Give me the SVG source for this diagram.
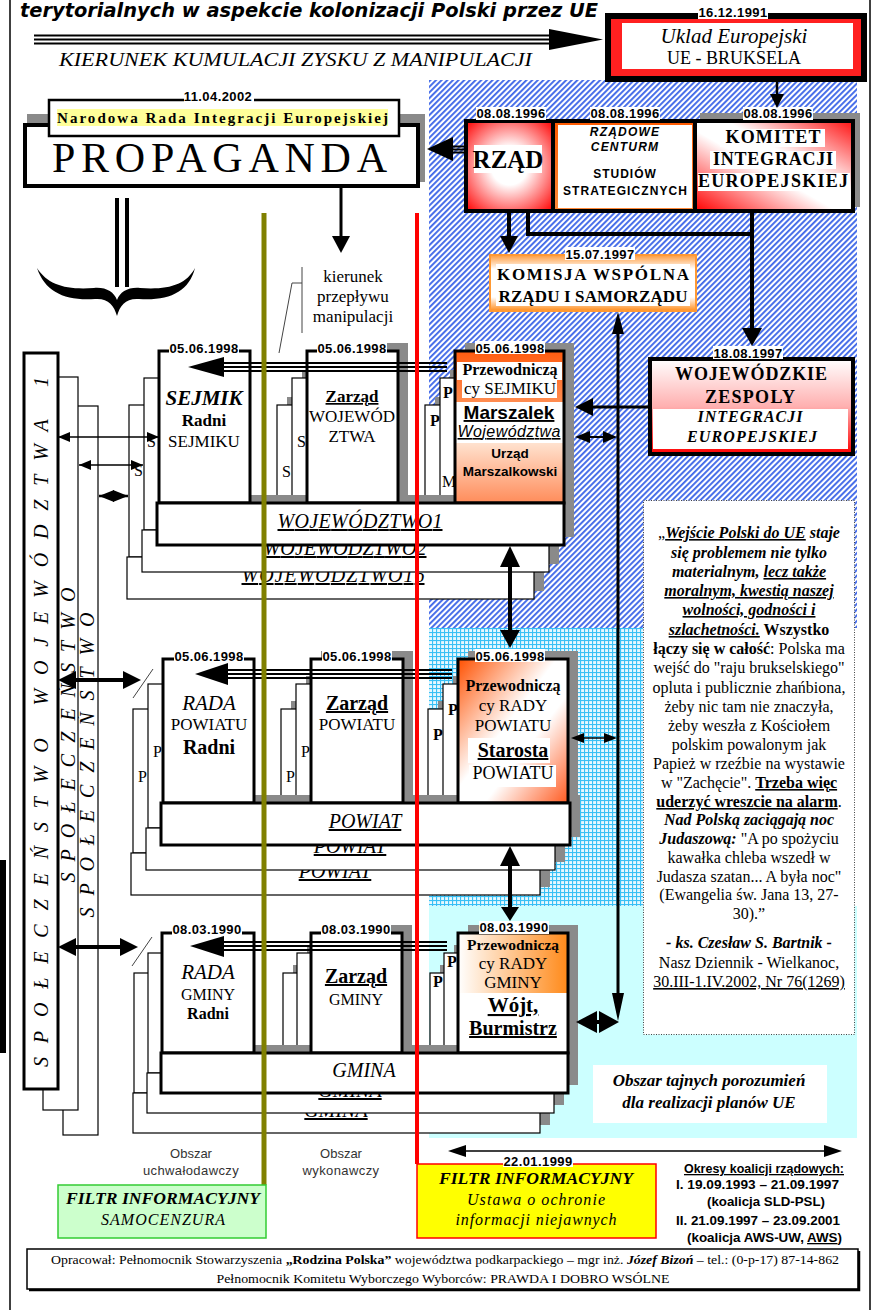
<svg xmlns="http://www.w3.org/2000/svg" width="878" height="1310" viewBox="0 0 878 1310">
<defs>
<style>
.sf{font-family:"Liberation Serif","Times New Roman",serif}
.ss{font-family:"Liberation Sans",Arial,sans-serif}
.dj{font-family:"DejaVu Sans",Verdana,sans-serif}
.c{text-anchor:middle}
.b{font-weight:bold}
.i{font-style:italic}
.u{text-decoration:underline}
.date{font-family:"Liberation Sans",Arial,sans-serif;font-weight:bold;font-size:13px;letter-spacing:0.4px;text-anchor:middle;fill:#000}
.dbg{fill:#fff}
.bx{fill:#fff;stroke:#000;stroke-width:3}
.bk{fill:#fff;stroke:#000;stroke-width:1.2}
.sh{fill:#8a8a8a}
.ol{fill:none;stroke:#000;stroke-width:3}
.k{fill:#000}
.tri{stroke:#000;stroke-width:2;fill:none}
.q{font-family:"Liberation Serif","Times New Roman",serif;font-size:16px;text-anchor:middle;fill:#000}
.bar{font-family:"Liberation Serif","Times New Roman",serif;font-style:italic;font-size:20px;text-anchor:middle}
</style>
<pattern id="hatch" width="4" height="4" patternUnits="userSpaceOnUse" patternTransform="rotate(45)">
<rect width="4" height="4" fill="#fff"/><rect width="1.9" height="4" fill="#4169e8"/>
</pattern>
<pattern id="grid" width="4" height="4" patternUnits="userSpaceOnUse">
<rect width="4" height="4" fill="#e6f8ff"/><rect width="4" height="1.1" fill="#38c0f5"/><rect width="1.1" height="4" fill="#38c0f5"/>
</pattern>
<radialGradient id="gRzad" cx="50%" cy="50%" r="70%">
<stop offset="0" stop-color="#fff"/><stop offset="0.3" stop-color="#fff"/><stop offset="1" stop-color="#ff0000"/>
</radialGradient>
<linearGradient id="gKom" x1="0" y1="1" x2="1" y2="0">
<stop offset="0" stop-color="#ff0000"/><stop offset="0.45" stop-color="#fff"/><stop offset="0.6" stop-color="#fff"/><stop offset="1" stop-color="#ff1010"/>
</linearGradient>
<linearGradient id="gCen" x1="0" y1="0" x2="0" y2="1">
<stop offset="0" stop-color="#ff5a00"/><stop offset="1" stop-color="#ff8a3a"/>
</linearGradient>
<linearGradient id="gWoj" x1="0" y1="0" x2="0" y2="1">
<stop offset="0" stop-color="#fff"/><stop offset="0.5" stop-color="#ffb0b0"/><stop offset="1" stop-color="#ff0000"/>
</linearGradient>
<linearGradient id="gKms" x1="0" y1="0" x2="0" y2="1">
<stop offset="0" stop-color="#ff9a3a"/><stop offset="0.25" stop-color="#fff"/><stop offset="0.75" stop-color="#fff"/><stop offset="1" stop-color="#ff8c1a"/>
</linearGradient>
<linearGradient id="gMT" x1="0" y1="0" x2="0" y2="1">
<stop offset="0" stop-color="#ff5c10"/><stop offset="1" stop-color="#ff8c50"/>
</linearGradient>
<linearGradient id="gMB" x1="0" y1="0" x2="0" y2="1">
<stop offset="0" stop-color="#ffe2cf"/><stop offset="1" stop-color="#ff8c5a"/>
</linearGradient>
<linearGradient id="gPow" x1="0" y1="0" x2="1" y2="1">
<stop offset="0" stop-color="#ff5000"/><stop offset="0.45" stop-color="#fff"/><stop offset="0.62" stop-color="#fff"/><stop offset="1" stop-color="#ff5a20"/>
</linearGradient>
<linearGradient id="gGm" x1="0" y1="0" x2="1" y2="0">
<stop offset="0" stop-color="#fff"/><stop offset="1" stop-color="#ff8a1a"/>
</linearGradient>
<marker id="mT" markerWidth="12" markerHeight="10" refX="12" refY="5" orient="auto-start-reverse" markerUnits="userSpaceOnUse"><path d="M0,0L12,5L0,10z"/></marker>
<marker id="mS" markerWidth="15" markerHeight="12" refX="15" refY="6" orient="auto-start-reverse" markerUnits="userSpaceOnUse"><path d="M0,0L15,6L0,12z"/></marker>
</defs>

<rect x="0" y="0" width="878" height="1310" fill="#fff"/>

<!-- background areas -->
<g id="areas">
<rect x="429" y="80" width="428" height="548" fill="url(#hatch)"/>
<rect x="429" y="628" width="214" height="278" fill="url(#grid)"/>
<rect x="429" y="906" width="428" height="232" fill="#ccffff"/>
</g>

<!-- frame -->
<g id="frame">
<line x1="10" y1="0" x2="10" y2="1310" stroke="#000" stroke-width="1.5"/>
<line x1="870" y1="0" x2="870" y2="1310" stroke="#000" stroke-width="1.5"/>
<rect x="0" y="860" width="6" height="193" fill="#000"/>
</g>

<!-- title -->
<g id="title">
<text class="dj b i" x="20" y="17" font-size="19" textLength="578" lengthAdjust="spacingAndGlyphs">terytorialnych w aspekcie kolonizacji Polski przez UE</text>
<text class="sf i" x="59" y="66" font-size="18" textLength="473" lengthAdjust="spacingAndGlyphs">KIERUNEK KUMULACJI ZYSKU Z MANIPULACJI</text>
</g>

<!-- Uklad Europejski -->
<g id="uklad">
<rect x="608" y="16" width="256" height="63" fill="#ff2020" stroke="#000" stroke-width="6"/>
<rect x="622" y="23" width="231" height="46" fill="#fff"/>
<rect class="dbg" x="698" y="5" width="70" height="14"/>
<text class="date" x="733" y="17">16.12.1991</text>
<text class="sf i c" x="734" y="43" font-size="21">Uklad Europejski</text>
<text class="sf c" x="734" y="64" font-size="18">UE - BRUKSELA</text>
</g>

<!-- Propaganda -->
<g id="propaganda">
<rect class="sh" x="27" y="114" width="398" height="68"/>
<rect x="25" y="125" width="393" height="61" fill="#fff" stroke="#000" stroke-width="4"/>
<text class="sf" x="52" y="172" font-size="42" textLength="335" lengthAdjust="spacing">PROPAGANDA</text>
</g>
<g id="nrie">
<rect x="49" y="100" width="350" height="36" fill="#fff" stroke="#000" stroke-width="2.5"/>
<rect x="57" y="109" width="331" height="17" fill="#ffff99"/>
<text class="sf b" x="57" y="123" font-size="15" textLength="331" lengthAdjust="spacing">Narodowa Rada Integracji Europejskiej</text>
<rect class="dbg" x="184" y="90" width="70" height="13"/>
<text class="date" x="218" y="101">11.04.2002</text>
</g>

<!-- brace and double line -->
<g id="brace">
<line x1="117" y1="198" x2="117" y2="287" stroke="#000" stroke-width="4"/>
<line x1="127" y1="198" x2="127" y2="287" stroke="#000" stroke-width="4"/>
<path d="M37,268 C45,292 65,301 95,299 C108,298 114,305 117,316 C120,305 126,298 139,299 C169,301 189,292 195,268 C186,285 168,290 140,288 C128,287 120,292 117,300 C114,292 106,287 94,288 C66,290 48,285 37,268 Z" fill="#000"/>
</g>

<!-- kierunek przeplywu -->
<g id="kierunek">
<text class="sf c" x="353" y="282" font-size="17">kierunek</text>
<text class="sf c" x="353" y="302" font-size="17">przepływu</text>
<text class="sf c" x="353" y="322" font-size="17">manipulacji</text>
<polyline points="302,267 302,333" fill="none" stroke="#444" stroke-width="1"/>
<polyline points="302,283 292,283 279,353" fill="none" stroke="#444" stroke-width="1"/>
</g>

<!-- Rzad / Centrum / Komitet -->
<g id="rzad">
<rect class="sh" x="700" y="113" width="160" height="94"/>
<rect x="466" y="121" width="87" height="90" fill="url(#gRzad)"/>
<rect x="553" y="121" width="142" height="90" fill="url(#gCen)"/>
<rect x="558" y="125" width="134" height="83" fill="#fff"/>
<rect x="695" y="121" width="158" height="90" fill="url(#gKom)"/>
<rect x="466" y="121" width="387" height="90" fill="none" stroke="#000" stroke-width="4"/>
<line x1="553" y1="121" x2="553" y2="211" stroke="#000" stroke-width="4"/>
<line x1="695" y1="121" x2="695" y2="211" stroke="#000" stroke-width="4"/>
<rect x="474" y="145" width="68" height="28" fill="#fff"/>
<text class="sf b c" x="508" y="168" font-size="25">RZĄD</text>
<text class="ss b i c" x="625" y="136" font-size="12" letter-spacing="1.2">RZĄDOWE</text>
<text class="ss b i c" x="625" y="151" font-size="12" letter-spacing="1.2">CENTURM</text>
<text class="ss b c" x="625" y="178" font-size="12" letter-spacing="1">STUDIÓW</text>
<text class="ss b c" x="625" y="195" font-size="12" textLength="124" lengthAdjust="spacing">STRATEGICZNYCH</text>
<rect x="720" y="129" width="105" height="18" fill="#fff"/>
<rect x="710" y="151" width="126" height="18" fill="#fff"/>
<rect x="698" y="173" width="152" height="18" fill="#fff"/>
<text class="sf b c" x="773" y="143" font-size="18" textLength="95" lengthAdjust="spacing">KOMITET</text>
<text class="sf b c" x="773" y="165" font-size="18" textLength="120" lengthAdjust="spacing">INTEGRACJI</text>
<text class="sf b c" x="773" y="187" font-size="18" textLength="150" lengthAdjust="spacing">EUROPEJSKIEJ</text>
<rect class="dbg" x="476" y="107" width="70" height="13"/>
<text class="date" x="511" y="118">08.08.1996</text>
<rect class="dbg" x="590" y="107" width="70" height="13"/>
<text class="date" x="625" y="118">08.08.1996</text>
<rect class="dbg" x="743" y="107" width="70" height="13"/>
<text class="date" x="778" y="118">08.08.1996</text>
</g>

<!-- Komisja -->
<g id="komisja">
<rect x="490" y="255" width="206" height="56" fill="url(#gKms)" stroke="#ff9933" stroke-width="2"/>
<rect x="496" y="264" width="194" height="20" fill="#fff"/>
<rect x="496" y="286" width="194" height="20" fill="#fff"/>
<text class="sf b c" x="593" y="280" font-size="17" textLength="192" lengthAdjust="spacing">KOMISJA WSPÓLNA</text>
<text class="sf b c" x="593" y="302" font-size="17" textLength="189" lengthAdjust="spacing">RZĄDU I SAMORZĄDU</text>
<rect class="dbg" x="565" y="247" width="70" height="13"/>
<text class="date" x="600" y="259">15.07.1997</text>
</g>

<!-- Wojewodzkie zespoly -->
<g id="wojzesp">
<rect x="650" y="359" width="203" height="95" fill="url(#gWoj)" stroke="#000" stroke-width="4"/>
<rect x="653" y="409" width="195" height="40" fill="#fff"/>
<text class="sf b c" x="751" y="380" font-size="18" textLength="152" lengthAdjust="spacing">WOJEWÓDZKIE</text>
<text class="sf b c" x="750" y="403" font-size="18" textLength="90" lengthAdjust="spacing">ZESPOLY</text>
<text class="sf b i c" x="750" y="422" font-size="16" textLength="105" lengthAdjust="spacing">INTEGRACJI</text>
<text class="sf b i c" x="752" y="442" font-size="16" textLength="130" lengthAdjust="spacing">EUROPEJSKIEJ</text>
<rect class="dbg" x="713" y="346" width="70" height="13"/>
<text class="date" x="748" y="358">18.08.1997</text>
</g>

<!-- Spoleczenstwo -->
<g id="spoleczenstwo">
<rect class="bk" x="63" y="406" width="35" height="729"/>
<text class="sf i c" transform="translate(94,765) rotate(-90)" font-size="20" textLength="305" lengthAdjust="spacing">SPOŁECZEŃSTWO</text>
<rect class="bk" x="43" y="377" width="35" height="733"/>
<text class="sf i c" transform="translate(75,735) rotate(-90)" font-size="20" textLength="295" lengthAdjust="spacing">SPOŁECZEŃSTWO</text>
<rect x="24" y="353" width="34" height="736" fill="#fff" stroke="#000" stroke-width="3"/>
<text class="sf i c" transform="translate(48,722) rotate(-90)" font-size="20" textLength="690" lengthAdjust="spacing">SPOŁECZEŃSTWO WOJEWÓDZTWA 1</text>
</g>

<!-- Wojewodztwo row: back copies -->
<g id="woj-back2" transform="translate(-30,54)">
<rect class="sh" x="317" y="343" width="91" height="152"/>
<rect class="sh" x="465" y="343" width="109" height="152"/>
<rect class="sh" x="167" y="495" width="407" height="42"/>
<rect class="bk" x="159" y="351" width="91" height="152"/>
<rect class="bk" x="307" y="351" width="91" height="152"/>
<rect class="bk" x="455" y="351" width="109" height="152"/>
<text class="sf" x="164" y="422" font-size="16">S</text>
<text class="sf" x="312" y="423" font-size="16">S</text>
<text class="sf b" x="460" y="372" font-size="16">P</text>
<rect class="bk" x="157" y="503" width="407" height="42"/>
<text class="bar u" x="363" y="528" textLength="183" lengthAdjust="spacing">WOJEWÓDZTWO16</text>
</g>
<g id="woj-back1" transform="translate(-15,27)">
<rect class="sh" x="317" y="343" width="91" height="152"/>
<rect class="sh" x="465" y="343" width="109" height="152"/>
<rect class="sh" x="167" y="495" width="407" height="42"/>
<rect class="bk" x="159" y="351" width="91" height="152"/>
<rect class="bk" x="307" y="351" width="91" height="152"/>
<rect class="bk" x="455" y="351" width="109" height="152"/>
<text class="sf" x="162" y="420" font-size="16">S</text>
<text class="sf" x="312" y="420" font-size="16">S</text>
<text class="sf b" x="458" y="371" font-size="16">P</text>
<text class="sf" x="457" y="460" font-size="16">M</text>
<rect class="bk" x="157" y="503" width="407" height="42"/>
<text class="bar u" x="360" y="528" textLength="163" lengthAdjust="spacing">WOJEWÓDZTWO2</text>
</g>

<!-- Wojewodztwo row: front -->
<g id="woj-shadows">
<rect class="sh" x="317" y="343" width="91" height="152"/>
<rect class="sh" x="465" y="343" width="109" height="152"/>
<rect class="sh" x="167" y="495" width="407" height="42"/>
</g>
<g id="sejmik">
<rect class="bx" x="159" y="351" width="91" height="152"/>
<text class="sf b i c" x="204" y="405" font-size="21">SEJMIK</text>
<text class="sf b c" x="204" y="426" font-size="17">Radni</text>
<text class="sf c" x="204" y="447" font-size="17">SEJMIKU</text>
<rect class="dbg" x="169" y="341" width="70" height="13"/>
<text class="date" x="204" y="353">05.06.1998</text>
</g>
<g id="zarzad-woj">
<rect class="bx" x="307" y="351" width="91" height="152"/>
<text class="sf b c u" x="352" y="402" font-size="17">Zarząd</text>
<text class="sf c" x="352" y="422" font-size="17">WOJEWÓD</text>
<text class="sf c" x="352" y="442" font-size="17">ZTWA</text>
<rect class="dbg" x="317" y="341" width="70" height="13"/>
<text class="date" x="352" y="353">05.06.1998</text>
</g>
<g id="marszalek">
<rect x="455" y="351" width="109" height="51" fill="url(#gMT)"/>
<rect x="455" y="402" width="109" height="41" fill="#fff"/>
<rect x="455" y="443" width="109" height="60" fill="url(#gMB)"/>
<rect x="457" y="362" width="105" height="18" fill="#fff"/>
<rect x="462" y="380" width="95" height="18" fill="#fff"/>
<rect class="ol" x="455" y="351" width="109" height="152"/>
<text class="sf b c" x="510" y="375" font-size="16">Przewodniczą</text>
<text class="sf c" x="510" y="394" font-size="17">cy SEJMIKU</text>
<text class="ss b c u" x="509" y="419" font-size="19">Marszalek</text>
<text class="ss i c u" x="509" y="437" font-size="16" textLength="103" lengthAdjust="spacing">Województwa</text>
<text class="ss b c" x="510" y="458" font-size="13.5">Urząd</text>
<text class="ss b c" x="510" y="476" font-size="13.5">Marszalkowski</text>
<rect class="dbg" x="475" y="341" width="70" height="13"/>
<text class="date" x="510" y="353">05.06.1998</text>
</g>
<g id="wojewodztwo1">
<rect class="bx" x="157" y="503" width="407" height="42"/>
<text class="bar u" x="360" y="528" textLength="165" lengthAdjust="spacing">WOJEWÓDZTWO1</text>
</g>

<!-- Powiat row: back copies -->
<g id="pow-back2" transform="translate(-30,50)">
<rect class="sh" x="321" y="651" width="92" height="144"/>
<rect class="sh" x="468" y="651" width="110" height="144"/>
<rect class="sh" x="171" y="795" width="409" height="42"/>
<rect class="bk" x="163" y="659" width="91" height="144"/>
<rect class="bk" x="311" y="659" width="92" height="144"/>
<rect class="bk" x="458" y="659" width="110" height="144"/>
<text class="sf" x="168" y="732" font-size="16">P</text>
<text class="sf" x="316" y="732" font-size="16">P</text>
<text class="sf b" x="463" y="690" font-size="16">P</text>
<rect class="bk" x="161" y="803" width="409" height="42"/>
<text class="bar u" x="365" y="828">POWIAT</text>
</g>
<g id="pow-back1" transform="translate(-15,25)">
<rect class="sh" x="321" y="651" width="92" height="144"/>
<rect class="sh" x="468" y="651" width="110" height="144"/>
<rect class="sh" x="171" y="795" width="409" height="42"/>
<rect class="bk" x="163" y="659" width="91" height="144"/>
<rect class="bk" x="311" y="659" width="92" height="144"/>
<rect class="bk" x="458" y="659" width="110" height="144"/>
<text class="sf" x="168" y="732" font-size="16">P</text>
<text class="sf" x="316" y="732" font-size="16">P</text>
<text class="sf b" x="463" y="690" font-size="16">P</text>
<rect class="bk" x="161" y="803" width="409" height="42"/>
<text class="bar u" x="365" y="828">POWIAT</text>
</g>

<!-- Powiat row: front -->
<g id="pow-shadows">
<rect class="sh" x="321" y="651" width="92" height="144"/>
<rect class="sh" x="468" y="651" width="110" height="144"/>
<rect class="sh" x="171" y="795" width="409" height="42"/>
</g>
<g id="rada-powiatu">
<rect class="bx" x="163" y="659" width="91" height="144"/>
<text class="sf i c" x="209" y="710" font-size="21">RADA</text>
<text class="sf c" x="209" y="730" font-size="17">POWIATU</text>
<text class="sf b c" x="209" y="754" font-size="20">Radni</text>
<rect class="dbg" x="174" y="649" width="70" height="13"/>
<text class="date" x="209" y="661">05.06.1998</text>
</g>
<g id="zarzad-powiatu">
<rect class="bx" x="311" y="659" width="92" height="144"/>
<text class="sf b c u" x="357" y="710" font-size="20">Zarząd</text>
<text class="sf c" x="357" y="730" font-size="17">POWIATU</text>
<rect class="dbg" x="322" y="649" width="70" height="13"/>
<text class="date" x="357" y="661">05.06.1998</text>
</g>
<g id="starosta">
<rect x="458" y="659" width="110" height="144" fill="url(#gPow)"/>
<rect x="468" y="738" width="82" height="25" fill="#fff"/>
<rect x="469" y="765" width="87" height="22" fill="#fff"/>
<rect class="ol" x="458" y="659" width="110" height="144"/>
<text class="sf b c" x="513" y="691" font-size="16">Przewodniczą</text>
<text class="sf c" x="513" y="711" font-size="17">cy RADY</text>
<text class="sf c" x="513" y="731" font-size="17">POWIATU</text>
<text class="sf b c u" x="513" y="757" font-size="20">Starosta</text>
<text class="sf c" x="513" y="779" font-size="18">POWIATU</text>
<rect class="dbg" x="475" y="649" width="70" height="13"/>
<text class="date" x="510" y="661">05.06.1998</text>
</g>
<g id="powiat">
<rect class="bx" x="161" y="803" width="409" height="42"/>
<text class="bar u" x="365" y="828">POWIAT</text>
</g>

<!-- Gmina row: back copies -->
<g id="gm-back2" transform="translate(-28,40)">
<rect class="sh" x="321" y="925" width="91" height="120"/>
<rect class="sh" x="468" y="925" width="110" height="120"/>
<rect class="sh" x="171" y="1045" width="407" height="40"/>
<rect class="bk" x="162" y="933" width="92" height="120"/>
<rect class="bk" x="311" y="933" width="91" height="120"/>
<rect class="bk" x="458" y="933" width="110" height="120"/>
<text class="sf b" x="461" y="947" font-size="16">P</text>
<rect class="bk" x="161" y="1053" width="407" height="40"/>
<text class="bar u" x="364" y="1077">GMINA</text>
</g>
<g id="gm-back1" transform="translate(-14,20)">
<rect class="sh" x="321" y="925" width="91" height="120"/>
<rect class="sh" x="468" y="925" width="110" height="120"/>
<rect class="sh" x="171" y="1045" width="407" height="40"/>
<rect class="bk" x="162" y="933" width="92" height="120"/>
<rect class="bk" x="311" y="933" width="91" height="120"/>
<rect class="bk" x="458" y="933" width="110" height="120"/>
<text class="sf b" x="461" y="947" font-size="16">P</text>
<rect class="bk" x="161" y="1053" width="407" height="40"/>
<text class="bar u" x="364" y="1077">GMINA</text>
</g>

<!-- Gmina row: front -->
<g id="gm-shadows">
<rect class="sh" x="321" y="925" width="91" height="120"/>
<rect class="sh" x="468" y="925" width="110" height="120"/>
<rect class="sh" x="171" y="1045" width="407" height="40"/>
</g>
<g id="rada-gminy">
<rect class="bx" x="162" y="933" width="92" height="120"/>
<text class="sf i c" x="208" y="979" font-size="21">RADA</text>
<text class="sf c" x="208" y="1000" font-size="16">GMINY</text>
<text class="sf b c" x="208" y="1019" font-size="16">Radni</text>
<rect class="dbg" x="172" y="922" width="70" height="13"/>
<text class="date" x="207" y="934">08.03.1990</text>
</g>
<g id="zarzad-gminy">
<rect class="bx" x="311" y="933" width="91" height="120"/>
<text class="sf b c u" x="356" y="983" font-size="20">Zarząd</text>
<text class="sf c" x="356" y="1005" font-size="16">GMINY</text>
<rect class="dbg" x="321" y="922" width="70" height="13"/>
<text class="date" x="356" y="934">08.03.1990</text>
</g>
<g id="wojt">
<rect x="458" y="933" width="110" height="120" fill="#fff"/>
<rect x="458" y="933" width="110" height="60" fill="url(#gGm)"/>
<rect class="ol" x="458" y="933" width="110" height="120"/>
<text class="sf b c" x="513" y="950" font-size="15.5">Przewodniczą</text>
<text class="sf c" x="513" y="969" font-size="17">cy RADY</text>
<text class="sf c" x="513" y="988" font-size="17">GMINY</text>
<text class="sf b c u" x="513" y="1012" font-size="21">Wójt,</text>
<text class="sf b c u" x="513" y="1035" font-size="20">Burmistrz</text>
<rect class="dbg" x="479" y="921" width="70" height="13"/>
<text class="date" x="514" y="932">08.03.1990</text>
</g>
<g id="gmina">
<rect class="bx" x="161" y="1053" width="407" height="40"/>
<text class="bar" x="364" y="1077">GMINA</text>
</g>

<!-- quote -->
<g id="cytat">
<rect x="643.5" y="500.5" width="211" height="534" fill="#fff" stroke="#444" stroke-width="1" stroke-dasharray="1 1.5"/>
<text class="q" x="749" y="538"><tspan>„</tspan><tspan class="b i u">Wejście Polski do UE</tspan><tspan class="b i"> staje</tspan></text>
<text class="q b i" x="749" y="558">się problemem nie tylko</text>
<text class="q" x="749" y="577"><tspan class="b i">materialnym, </tspan><tspan class="b i u">lecz także</tspan></text>
<text class="q b i u" x="749" y="596">moralnym, kwestią naszej</text>
<text class="q b i u" x="749" y="615">wolności, godności i</text>
<text class="q" x="749" y="635"><tspan class="b i u">szlachetności.</tspan><tspan class="b"> Wszystko</tspan></text>
<text class="q" x="749" y="654"><tspan class="b">łączy się w całość</tspan>: Polska ma</text>
<text class="q" x="749" y="673">wejść do "raju brukselskiego"</text>
<text class="q" x="749" y="693">opluta i publicznie zhańbiona,</text>
<text class="q" x="749" y="712">żeby nic tam nie znaczyła,</text>
<text class="q" x="749" y="731">żeby weszła z Kościołem</text>
<text class="q" x="749" y="750">polskim powalonym jak</text>
<text class="q" x="749" y="769">Papież w rzeźbie na wystawie</text>
<text class="q" x="749" y="788">w "Zachęcie". <tspan class="b u">Trzeba więc</tspan></text>
<text class="q" x="749" y="807"><tspan class="b u">uderzyć wreszcie na alarm</tspan>.</text>
<text class="q b i" x="749" y="825">Nad Polską zaciągają noc</text>
<text class="q" x="749" y="844"><tspan class="b i">Judaszową:</tspan> "A po spożyciu</text>
<text class="q" x="749" y="863">kawałka chleba wszedł w</text>
<text class="q" x="749" y="882">Judasza szatan... A była noc"</text>
<text class="q" x="749" y="900">(Ewangelia św. Jana 13, 27-</text>
<text class="q" x="749" y="919">30).”</text>
<text class="q b i" x="749" y="948">- ks. Czesław S. Bartnik -</text>
<text class="q" x="749" y="968">Nasz Dziennik - Wielkanoc,</text>
<text class="q u" x="749" y="987">30.III-1.IV.2002, Nr 76(1269)</text>
</g>

<g id="obszar-tajny">
<rect x="593" y="1065" width="234" height="58" fill="#fff"/>
<text class="sf b i c" x="709" y="1086" font-size="17">Obszar tajnych porozumień</text>
<text class="sf b i c" x="709" y="1108" font-size="17">dla realizacji planów UE</text>
</g>

<!-- connectors -->
<g id="connectors">
<line class="tri" x1="34" y1="35.5" x2="552" y2="35.5" stroke-width="2.2"/>
<line class="tri" x1="34" y1="39.5" x2="552" y2="39.5" stroke-width="2.2"/>
<line class="tri" x1="34" y1="43.5" x2="552" y2="43.5" stroke-width="2.2"/>
<polygon class="k" points="549,29 603,39.5 549,50"/>
<line x1="777" y1="82" x2="777" y2="96" stroke="#000" stroke-width="2.5"/>
<polygon class="k" points="770,94 784,94 777,108"/>
<line class="tri" x1="450" y1="146.5" x2="466" y2="146.5" stroke-width="1.5"/>
<line class="tri" x1="450" y1="149.5" x2="466" y2="149.5" stroke-width="1.5"/>
<line class="tri" x1="450" y1="152.5" x2="466" y2="152.5" stroke-width="1.5"/>
<polygon class="k" points="427,149 453,137 453,161"/>
<line x1="341" y1="188" x2="341" y2="238" stroke="#000" stroke-width="3"/>
<polygon class="k" points="332,236 350,236 341,253"/>
<line x1="509" y1="213" x2="509" y2="238" stroke="#000" stroke-width="4"/>
<polygon class="k" points="500,236 518,236 509,253"/>
<polyline points="528,213 528,234 752,234" fill="none" stroke="#000" stroke-width="4"/>
<line x1="752" y1="211" x2="752" y2="330" stroke="#000" stroke-width="4"/>
<polygon class="k" points="742,328 762,328 752,346"/>
<line x1="618" y1="325" x2="618" y2="1000" stroke="#000" stroke-width="3"/>
<polygon class="k" points="618,312 612,334 624,334"/>
<polygon class="k" points="618,1021 612,993 624,993"/>
<line x1="590" y1="407" x2="650" y2="407" stroke="#000" stroke-width="3"/>
<polygon class="k" points="575,407 593,398 593,416"/>
<line x1="585" y1="437" x2="608" y2="437" stroke="#000" stroke-width="2"/>
<polygon class="k" points="575,437 590,431 590,443"/>
<polygon class="k" points="617,437 603,431 603,443"/>
<line x1="580" y1="738" x2="608" y2="738" stroke="#000" stroke-width="1.5"/>
<polygon class="k" points="571,738 584,733 584,743"/>
<polygon class="k" points="617,738 604,733 604,743"/>
<line x1="580" y1="1022" x2="615" y2="1022" stroke="#000" stroke-width="4"/>
<polygon class="k" points="576,1022 597,1011 597,1033"/>
<polygon class="k" points="619,1022 599,1011 599,1033"/>
<line x1="510" y1="562" x2="510" y2="632" stroke="#000" stroke-width="4"/>
<polygon class="k" points="510,546 500,567 520,567"/>
<polygon class="k" points="510,648 500,630 520,630"/>
<line x1="510" y1="862" x2="510" y2="912" stroke="#000" stroke-width="4"/>
<polygon class="k" points="510,846 500,866 520,866"/>
<polygon class="k" points="510,921 501,907 519,907"/>
<line class="tri" x1="222" y1="363" x2="447" y2="363"/>
<line class="tri" x1="222" y1="367" x2="447" y2="367"/>
<line class="tri" x1="222" y1="371" x2="447" y2="371"/>
<polygon class="k" points="188,367 224,357 224,377"/>
<line class="tri" x1="226" y1="670" x2="452" y2="670"/>
<line class="tri" x1="226" y1="674" x2="452" y2="674"/>
<line class="tri" x1="226" y1="678" x2="452" y2="678"/>
<polygon class="k" points="195,674 228,663 228,685"/>
<line class="tri" x1="222" y1="942" x2="447" y2="942"/>
<line class="tri" x1="222" y1="946" x2="447" y2="946"/>
<line class="tri" x1="222" y1="950" x2="447" y2="950"/>
<polygon class="k" points="190,946 224,936 224,957"/>
<line x1="58" y1="437" x2="159" y2="437" stroke="#000" stroke-width="1.5" marker-start="url(#mT)" marker-end="url(#mT)"/>
<line x1="79" y1="465" x2="143" y2="465" stroke="#000" stroke-width="1.5" marker-start="url(#mT)" marker-end="url(#mT)"/>
<line x1="99" y1="496" x2="128" y2="496" stroke="#000" stroke-width="2.5" marker-start="url(#mS)" marker-end="url(#mS)"/>
<line x1="70" y1="680" x2="130" y2="680" stroke="#000" stroke-width="4"/>
<polygon class="k" points="58,680 76,671 76,689"/>
<polygon class="k" points="141,680 123,671 123,689"/>
<line x1="153" y1="669" x2="133" y2="698" stroke="#444" stroke-width="1"/>
<line x1="70" y1="947" x2="128" y2="947" stroke="#000" stroke-width="4"/>
<polygon class="k" points="58,947 76,938 76,956"/>
<polygon class="k" points="138,947 120,938 120,956"/>
<line x1="152" y1="937" x2="132" y2="966" stroke="#444" stroke-width="1"/>
<line x1="460" y1="1151" x2="830" y2="1151" stroke="#000" stroke-width="1.5"/>
<polygon class="k" points="448,1151 466,1145 466,1157"/>
<polygon class="k" points="842,1151 824,1145 824,1157"/>
<line x1="264" y1="213" x2="264" y2="1185" stroke="#808000" stroke-width="5"/>
<line x1="417" y1="213" x2="417" y2="1164" stroke="#ff0000" stroke-width="4"/>
</g>

<!-- bottom labels -->
<g id="obszary">
<text class="ss c" x="191" y="1158" font-size="13" fill="#333">Obszar</text>
<text class="ss c" x="191" y="1175" font-size="13" fill="#333" letter-spacing="0.4">uchwałodawczy</text>
<text class="ss c" x="341" y="1158" font-size="13" fill="#333">Obszar</text>
<text class="ss c" x="341" y="1175" font-size="13" fill="#333" letter-spacing="0.4">wykonawczy</text>
</g>
<g id="filtr-samocenzura">
<rect x="58" y="1185" width="208" height="53" fill="#ccffcc" stroke="#33cc33" stroke-width="1.5"/>
<text class="sf b i c" x="163" y="1204" font-size="17" textLength="194" lengthAdjust="spacingAndGlyphs">FILTR INFORMACYJNY</text>
<text class="sf i c" x="163" y="1225" font-size="16" textLength="124" lengthAdjust="spacing">SAMOCENZURA</text>
</g>
<g id="filtr-ustawa">
<rect x="417" y="1164" width="239" height="74" fill="#ffff00" stroke="#ff0000" stroke-width="1.5"/>
<rect class="dbg" x="503" y="1154" width="70" height="13"/>
<text class="date" x="538" y="1166">22.01.1999</text>
<text class="sf b i c" x="536" y="1184" font-size="17" textLength="194" lengthAdjust="spacingAndGlyphs">FILTR INFORMACYJNY</text>
<text class="sf i c" x="536" y="1205" font-size="16" textLength="138" lengthAdjust="spacing">Ustawa o ochronie</text>
<text class="sf i c" x="536" y="1225" font-size="16" textLength="161" lengthAdjust="spacing">informacji niejawnych</text>
</g>
<g id="koalicje">
<text class="ss b u" x="684" y="1173" font-size="13" textLength="160" lengthAdjust="spacingAndGlyphs">Okresy koalicji rządowych:</text>
<text class="ss b" x="676" y="1189" font-size="13" textLength="163" lengthAdjust="spacingAndGlyphs">I. 19.09.1993 – 21.09.1997</text>
<text class="ss b" x="707" y="1206" font-size="13" textLength="118" lengthAdjust="spacingAndGlyphs">(koalicja SLD-PSL)</text>
<text class="ss b" x="676" y="1225" font-size="13" textLength="164" lengthAdjust="spacingAndGlyphs">II. 21.09.1997 – 23.09.2001</text>
<text class="ss b" x="687" y="1242" font-size="13" textLength="155" lengthAdjust="spacingAndGlyphs">(koalicja AWS-UW, <tspan class="u">AWS</tspan>)</text>
</g>
<g id="stopka">
<rect x="27" y="1249" width="831" height="40" fill="#fff" stroke="#000" stroke-width="1.5"/>
<polyline points="29,1290 859,1290 859,1251" fill="none" stroke="#000" stroke-width="2.5"/>
<text class="sf c" x="445" y="1264" font-size="12.5" textLength="788" lengthAdjust="spacingAndGlyphs">Opracował: Pełnomocnik Stowarzyszenia <tspan class="b">„Rodzina Polska”</tspan> województwa podkarpackiego – mgr inż. <tspan class="b i">Józef Bizoń</tspan> – tel.: (0-p-17) 87-14-862</text>
<text class="sf c" x="443" y="1283" font-size="12.5" textLength="453" lengthAdjust="spacingAndGlyphs">Pełnomocnik Komitetu Wyborczego Wyborców: PRAWDA I DOBRO WSÓLNE</text>
</g>
</svg>
